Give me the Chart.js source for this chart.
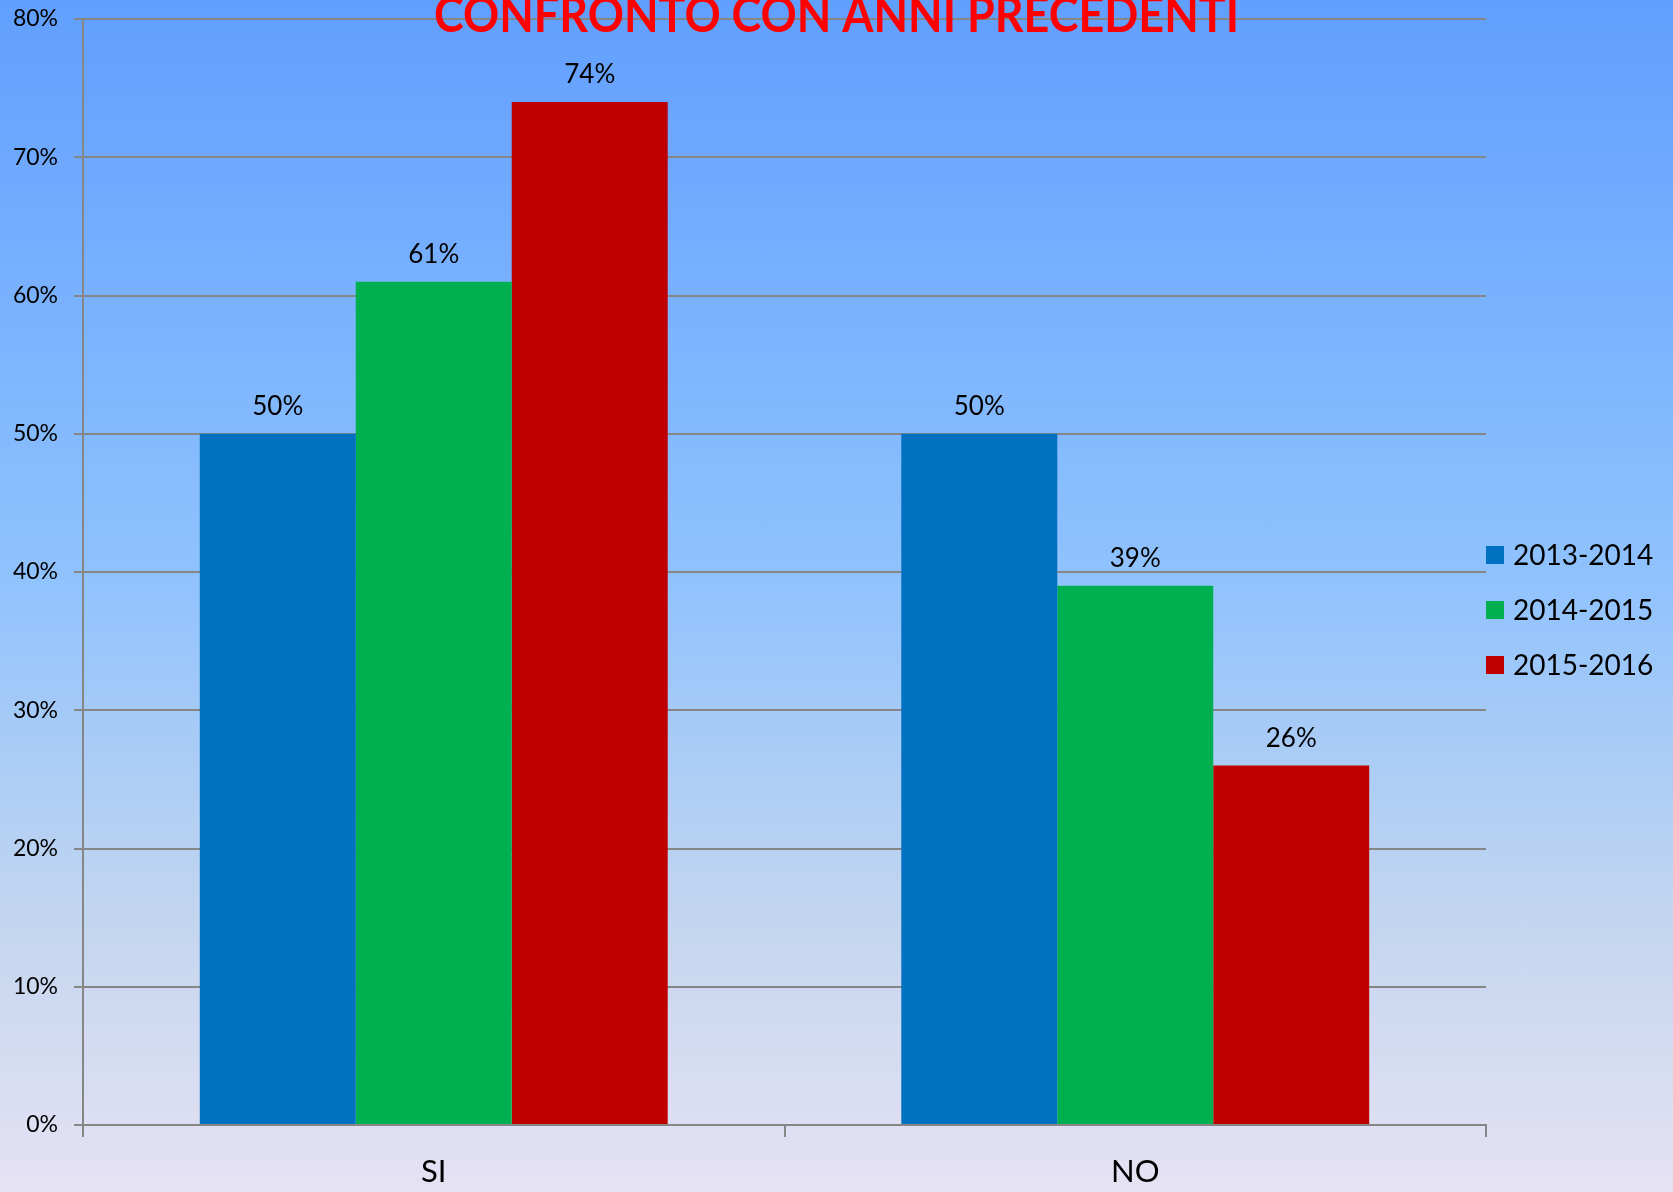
<!DOCTYPE html>
<html>
<head>
<meta charset="utf-8">
<script src="https://cdn.jsdelivr.net/npm/chart.js@4"></script>
<style>
  html, body { margin: 0; padding: 0; }
  body { width: 1673px; height: 1192px; overflow: hidden; }
  #wrap { width: 1673px; height: 1192px;
    background: linear-gradient(to bottom, #619fff 0%, #8fc2fd 48%, #c4d6ef 78%, #e6e2f4 100%); }
</style>
</head>
<body>
<div id="wrap"><canvas id="chart" width="1673" height="1192"></canvas></div>
<script>
// Categories and series
const categories = ['SI', 'NO'];
const seriesNames = ['2013-2014', '2014-2015', '2015-2016'];
const values2013 = [50, 50];
const values2014 = [61, 39];
const values2015 = [74, 26];
const seriesColors = ['#0070C0', '#00B050', '#C00000'];
const titleText = 'CONFRONTO CON ANNI PRECEDENTI';
const yMax = 80, yStep = 10;

const FONT = 'Lato, "Open Sans", sans-serif';

// Value labels above each bar
const barLabels = {
  id: 'barLabels',
  afterDatasetsDraw(chart) {
    const ctx = chart.ctx;
    ctx.save();
    ctx.font = '26px ' + FONT;
    ctx.fillStyle = '#000';
    ctx.textAlign = 'center';
    ctx.textBaseline = 'alphabetic';
    chart.data.datasets.forEach((ds, i) => {
      chart.getDatasetMeta(i).data.forEach((bar, j) => {
        ctx.fillText(ds.data[j] + '%', bar.x, bar.y - 19);
      });
    });
    ctx.restore();
  }
};

// Title (overlaps the top gridline, partly cut at the top) + legend on the right
const extras = {
  id: 'extras',
  afterDraw(chart) {
    const ctx = chart.ctx;
    ctx.save();
    ctx.font = 'bold 50px ' + FONT;
    ctx.fillStyle = '#FF0000';
    ctx.textBaseline = 'alphabetic';
    const w = ctx.measureText(titleText).width;
    const target = 805;
    ctx.translate(chart.width / 2, 32);
    ctx.scale(target / w, 1);
    ctx.textAlign = 'center';
    ctx.fillText(titleText, 0, 0);
    ctx.restore();

    // legend
    ctx.save();
    ctx.font = '28px ' + FONT;
    ctx.textBaseline = 'middle';
    ctx.textAlign = 'left';
    const x0 = chart.chartArea.right;
    const midY = 610, gap = 55;
    chart.data.datasets.forEach((ds, i) => {
      const cy = midY + (i - 1) * gap;
      ctx.fillStyle = ds.backgroundColor;
      ctx.fillRect(x0, cy - 9, 18, 18);
      ctx.fillStyle = '#000';
      ctx.fillText(ds.label, x0 + 27, cy + 1);
    });
    ctx.restore();
  }
};

const datasets = [values2013, values2014, values2015].map((vals, i) => ({
  label: seriesNames[i],
  data: vals,
  backgroundColor: seriesColors[i],
  borderWidth: 0,
  categoryPercentage: 0.667,
  barPercentage: 1.0
}));

new Chart(document.getElementById('chart'), {
  type: 'bar',
  data: { labels: categories, datasets },
  options: {
    responsive: false,
    animation: false,
    layout: { padding: { top: 19, right: 187, left: 0, bottom: 0 } },
    plugins: { legend: { display: false }, tooltip: { enabled: false } },
    scales: {
      x: {
        grid: { display: true, offset: true, drawOnChartArea: false, color: '#868686', lineWidth: 2, tickLength: 12 },
        border: { display: true, color: '#868686', width: 2 },
        ticks: { color: '#000', font: { family: FONT, size: 31 }, padding: 16 },
        afterFit(scale) { scale.height = 67; scale.paddingLeft = 0; scale.paddingRight = 0; }
      },
      y: {
        min: 0, max: yMax,
        grid: { color: '#868686', lineWidth: 2, tickLength: 9 },
        border: { display: true, color: '#868686', width: 2 },
        ticks: { stepSize: yStep, color: '#000', font: { family: FONT, size: 23 }, padding: 16,
                 callback: v => v + '%' },
        afterFit(scale) { scale.width = 83; scale.paddingTop = 0; scale.paddingBottom = 0; }
      }
    }
  },
  plugins: [barLabels, extras]
});
</script>
</body>
</html>
